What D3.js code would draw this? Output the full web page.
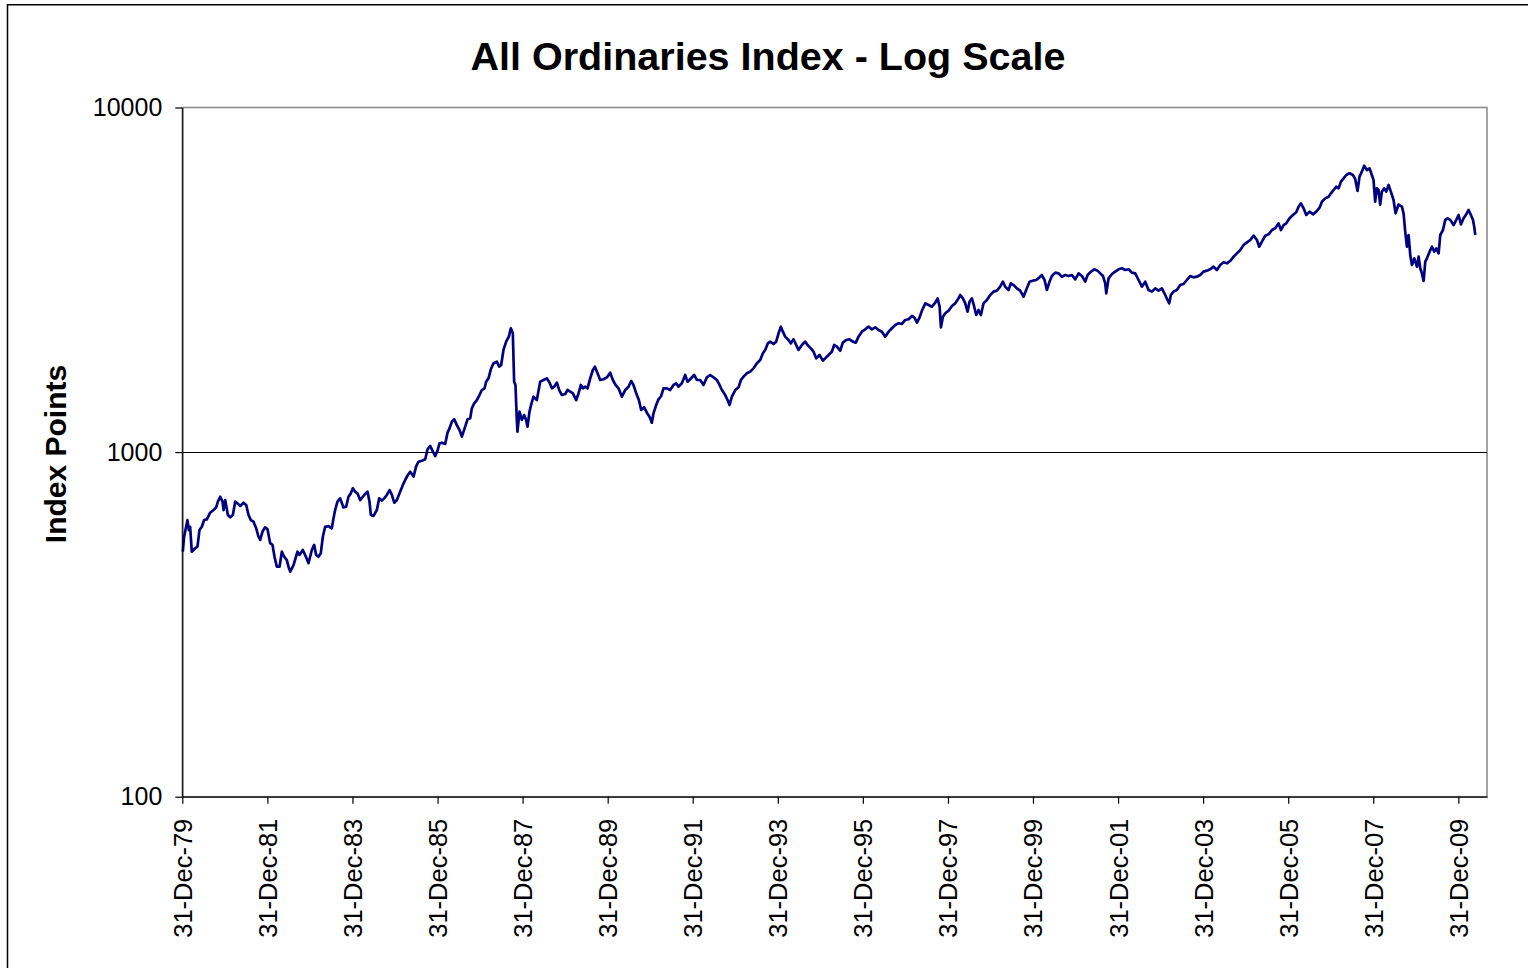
<!DOCTYPE html>
<html>
<head>
<meta charset="utf-8">
<script src="https://cdn.jsdelivr.net/npm/d3@7"></script>
<style>
  html, body { margin: 0; padding: 0; background: #fff; }
  svg { display: block; }
  text { font-family: "Liberation Sans", Arial, sans-serif; }
</style>
</head>
<body>
<svg id="chart" width="1528" height="968"></svg>
<script>
// ---- Data (decimal year, index points) ----
const years = [
1980.009,1980.040,1980.118,1980.150,1980.181,1980.220,1980.299,1980.353,1980.400,1980.455,
1980.510,1980.573,1980.651,1980.730,1980.792,1980.832,1980.887,1980.941,1980.965,1981.004,
1981.067,1981.122,1981.184,1981.239,1981.294,1981.357,1981.435,1981.498,1981.553,1981.608,
1981.670,1981.733,1981.788,1981.827,1981.882,1981.944,1981.999,1982.062,1982.117,1982.164,
1982.219,1982.282,1982.337,1982.392,1982.454,1982.493,1982.533,1982.611,1982.705,1982.752,
1982.830,1982.893,1982.964,1983.042,1983.097,1983.144,1983.198,1983.253,1983.301,1983.355,
1983.434,1983.512,1983.551,1983.590,1983.645,1983.708,1983.786,1983.849,1983.904,1983.959,
1984.006,1984.061,1984.115,1984.178,1984.241,1984.296,1984.351,1984.398,1984.429,1984.492,
1984.570,1984.625,1984.688,1984.743,1984.805,1984.868,1984.923,1984.978,1985.040,1985.119,
1985.182,1985.244,1985.299,1985.354,1985.432,1985.495,1985.550,1985.628,1985.707,1985.762,
1985.824,1985.887,1985.942,1985.996,1986.044,
1986.098,1986.177,1986.232,1986.279,1986.334,1986.389,1986.451,1986.514,1986.569,1986.647,
1986.702,1986.765,1986.804,1986.859,1986.921,1986.984,1987.039,1987.102,1987.141,1987.196,
1987.251,1987.313,1987.392,1987.447,1987.494,1987.548,1987.611,1987.674,1987.721,1987.768,
1987.799,1987.830,1987.862,1987.877,1987.925,1987.980,1988.034,1988.081,1988.113,1988.160,
1988.207,1988.254,1988.332,1988.411,1988.489,1988.567,1988.630,1988.685,1988.740,1988.803,
1988.857,1988.920,1988.998,1989.053,1989.116,1989.178,1989.257,1989.311,1989.366,1989.413,
1989.468,1989.523,1989.586,1989.649,1989.696,1989.759,1989.821,1989.900,1989.978,1990.057,
1990.119,1990.182,1990.252,1990.331,1990.409,1990.487,1990.550,1990.605,1990.668,1990.731,
1990.785,1990.856,1990.919,1990.981,1991.036,1991.075,1991.138,1991.193,1991.256,1991.310,
1991.389,1991.467,1991.546,1991.608,1991.663,1991.742,1991.820,1991.875,1991.938,1992.032,
1992.094,1992.173,
1992.251,1992.329,1992.408,1992.486,1992.565,1992.627,1992.682,1992.760,1992.815,1992.862,
1992.917,1992.996,1993.074,1993.129,1993.191,1993.270,1993.348,1993.426,1993.505,1993.583,
1993.646,1993.701,1993.763,1993.818,1993.897,1993.959,1994.014,1994.069,1994.116,1994.171,
1994.249,1994.304,1994.367,1994.429,1994.484,1994.563,1994.641,1994.696,1994.775,1994.837,
1994.900,1994.978,1995.057,1995.112,1995.190,1995.268,1995.323,1995.386,1995.464,1995.527,
1995.605,1995.684,1995.762,1995.833,1995.896,1995.974,1996.053,1996.131,1996.209,1996.288,
1996.366,1996.445,1996.523,1996.601,1996.680,1996.758,1996.837,1996.915,1996.993,1997.072,
1997.150,1997.205,1997.268,1997.330,1997.385,1997.464,1997.542,1997.620,1997.699,1997.754,
1997.801,1997.832,1997.879,1997.934,1998.012,1998.091,1998.169,1998.247,
1998.286,1998.349,1998.404,1998.458,1998.505,1998.560,1998.615,1998.662,1998.717,1998.772,
1998.834,1998.913,1998.991,1999.070,1999.148,1999.226,1999.289,1999.344,1999.422,1999.477,
1999.540,1999.618,1999.697,1999.775,1999.838,1999.916,1999.994,2000.073,2000.151,2000.206,
2000.269,2000.324,2000.386,2000.441,2000.520,2000.598,2000.676,2000.755,2000.833,2000.912,
2000.990,2001.068,2001.147,2001.225,2001.280,2001.359,2001.437,2001.515,2001.578,2001.641,
2001.695,2001.719,2001.774,2001.852,2001.930,2002.009,2002.087,2002.166,2002.244,2002.322,
2002.401,2002.479,2002.557,2002.636,2002.714,2002.793,2002.871,2002.949,2003.028,2003.106,
2003.161,2003.200,2003.239,2003.301,2003.380,2003.458,2003.537,2003.615,2003.693,2003.772,
2003.850,2003.928,2004.007,2004.085,2004.164,
2004.242,2004.321,2004.399,2004.477,2004.556,2004.634,2004.713,2004.791,2004.869,2004.948,
2005.026,2005.105,2005.183,2005.261,2005.316,2005.379,2005.457,2005.536,2005.614,2005.692,
2005.771,2005.826,2005.888,2005.951,2006.029,2006.108,2006.186,2006.241,2006.296,2006.359,
2006.421,2006.500,2006.578,2006.657,2006.735,2006.790,2006.868,2006.947,2007.002,2007.064,
2007.127,2007.182,2007.237,2007.299,2007.362,2007.440,2007.519,2007.573,2007.628,2007.675,
2007.730,2007.785,2007.847,2007.910,2007.965,2008.004,2008.043,2008.082,2008.121,2008.161,
2008.200,2008.255,2008.302,2008.357,2008.411,2008.474,2008.521,2008.592,2008.670,2008.709,
2008.748,2008.788,2008.827,2008.866,2008.905,2008.960,2009.023,2009.062,2009.101,2009.140,
2009.180,2009.219,2009.258,2009.321,2009.376,2009.431,2009.478,2009.533,2009.572,2009.635,
2009.690,2009.744,2009.807,2009.885,2009.948,2010.003,2010.058,2010.121,2010.183,2010.238,
2010.293,2010.340,2010.371,2010.395
];
const values = [
514,568,635,594,607,514,526,532,594,607,
635,638,667,679,691,718,742,718,679,726,
657,647,657,718,710,698,713,702,657,635,
628,601,568,556,588,605,597,544,538,497,
465,465,514,497,486,465,450,470,514,503,
520,500,476,520,538,503,497,509,568,607,
610,601,642,679,718,734,691,694,742,759,
785,768,759,726,742,756,768,718,657,653,
679,734,723,734,751,776,751,713,726,768,
803,834,858,877,849,911,938,944,953,1019,
1042,1003,974,1010,1060,
1065,1056,1139,1172,1225,1245,1198,1159,1109,1185,
1245,1253,1340,1385,1416,1464,1514,1531,1601,1637,
1739,1810,1830,1770,1790,1979,2092,2163,2287,2212,
1601,1566,1240,1146,1310,1240,1281,1240,1185,1310,
1385,1448,1416,1601,1619,1637,1591,1531,1548,1591,
1514,1464,1474,1514,1498,1481,1416,1481,1566,1531,
1548,1531,1637,1731,1770,1693,1619,1627,1648,1700,
1619,1566,1531,1448,1514,1548,1608,1566,1481,1416,
1325,1349,1301,1267,1217,1296,1370,1423,1455,1531,
1531,1514,1566,1584,1548,1584,1674,1601,1627,1674,
1619,1619,
1566,1648,1674,1648,1619,1566,1514,1464,1416,1370,
1448,1514,1542,1619,1656,1693,1712,1750,1810,1851,
1935,1979,2068,2092,2059,2092,2212,2312,2236,2163,
2115,2068,2125,2046,1979,2046,2092,2046,2000,1956,
1871,1913,1842,1871,1913,1956,2046,2023,1969,2078,
2115,2125,2092,2078,2163,2236,2271,2312,2271,2302,
2261,2236,2163,2236,2287,2338,2365,2354,2418,2429,
2483,2461,2375,2461,2573,2702,2672,2642,2714,2794,
2642,2302,2472,2528,2573,2655,2702,2794,
2857,2794,2702,2556,2732,2794,2642,2500,2585,2500,
2702,2763,2857,2922,2941,3021,3123,3021,2954,3089,
3054,2987,2941,2825,2954,3123,3144,3158,3215,3265,
3158,2954,3123,3243,3317,3302,3229,3265,3243,3265,
3172,3302,3243,3123,3265,3339,3392,3362,3302,3243,
3089,2889,3194,3287,3339,3392,3415,3376,3392,3317,
3302,3158,3021,3123,2954,2922,2987,2941,2987,2857,
2763,2702,2857,2922,2954,3054,3075,3158,3243,3215,
3229,3265,3339,3362,3392,
3452,3376,3491,3554,3531,3586,3691,3774,3859,3990,
4062,4126,4247,4126,3945,4080,4247,4285,4411,4461,
4612,4411,4560,4612,4769,4877,4964,5155,5271,5098,
4877,4986,4898,4986,5121,5330,5450,5511,5635,5763,
5893,5827,6093,6230,6370,6442,6370,6202,5724,6300,
6513,6780,6586,6661,6370,6160,5330,5827,5763,5228,
5699,5827,5699,5958,5699,5390,4931,5228,5155,4931,
4362,3945,4266,3733,3491,3650,3452,3691,3415,3302,
3137,3569,3650,3816,3945,3816,3902,3774,4266,4411,
4720,4769,4720,4560,4720,4877,4581,4769,4898,5042,
4877,4720,4510,4266
];
const yTickValues = [100, 1000, 10000];
const xTickDates = ["1979-12-31","1981-12-31","1983-12-31","1985-12-31","1987-12-31",
  "1989-12-31","1991-12-31","1993-12-31","1995-12-31","1997-12-31","1999-12-31",
  "2001-12-31","2003-12-31","2005-12-31","2007-12-31","2009-12-31"];
const xTickLabels = ["31-Dec-79","31-Dec-81","31-Dec-83","31-Dec-85","31-Dec-87",
  "31-Dec-89","31-Dec-91","31-Dec-93","31-Dec-95","31-Dec-97","31-Dec-99",
  "31-Dec-01","31-Dec-03","31-Dec-05","31-Dec-07","31-Dec-09"];
const xDomain = ["1979-12-31", "2010-09-03"];
const yDomain = [100, 10000];
const titleText = "All Ordinaries Index - Log Scale";
const yTitleText = "Index Points";

// ---- Helpers ----
const parseDay = d3.utcParse("%Y-%m-%d");
function decToDate(y) {
  const yr = Math.floor(y);
  const s = Date.UTC(yr, 0, 1), e = Date.UTC(yr + 1, 0, 1);
  return new Date(s + (y - yr) * (e - s));
}
const series = years.map((y, i) => ({ date: decToDate(y), value: values[i] }));

// ---- Layout ----
const svg = d3.select("#chart");
const L = 182.3, R = 1487, T = 107.5, B = 796.7;

const x = d3.scaleUtc().domain(xDomain.map(parseDay)).range([L, R]);
const y = d3.scaleLog().domain(yDomain).range([B, T]);

// outer chart border
svg.append("rect")
  .attr("x", 7.5).attr("y", 4.75)
  .attr("width", 1560).attr("height", 1000)
  .attr("fill", "none").attr("stroke", "#000").attr("stroke-width", 1.5);

// title
svg.append("text")
  .attr("x", 768).attr("y", 70)
  .attr("text-anchor", "middle")
  .attr("font-weight", "bold").attr("font-size", 39.5)
  .text(titleText);

// y title
svg.append("text")
  .attr("transform", "translate(66,454) rotate(-90)")
  .attr("text-anchor", "middle")
  .attr("font-weight", "bold").attr("font-size", 30)
  .text(yTitleText);

// plot area border
svg.append("rect")
  .attr("x", L).attr("y", T).attr("width", R - L).attr("height", B - T)
  .attr("fill", "#fff").attr("stroke", "#8c8c8c").attr("stroke-width", 1.6);

// gridlines (major)
svg.append("g").selectAll("line")
  .data(yTickValues.filter(v => v > yDomain[0] && v < yDomain[1]))
  .join("line")
  .attr("x1", L).attr("x2", R)
  .attr("y1", d => Math.round(y(d)) + 0.5).attr("y2", d => Math.round(y(d)) + 0.5)
  .attr("stroke", "#000").attr("stroke-width", 1);

// line
const line = d3.line().x(d => x(d.date)).y(d => y(d.value));
svg.append("path")
  .datum(series)
  .attr("d", line)
  .attr("fill", "none")
  .attr("stroke", "#000080")
  .attr("stroke-width", 2.7)
  .attr("stroke-linejoin", "round");

// y axis
const yAxis = svg.append("g")
  .attr("transform", `translate(${L},0)`)
  .call(d3.axisLeft(y).tickValues(yTickValues).tickFormat(d3.format("d"))
    .tickSize(7).tickSizeOuter(0).tickPadding(13));
yAxis.selectAll("text").attr("font-size", 25).attr("fill", "#000")
  .style("font-family", '"Liberation Sans", Arial, sans-serif');
yAxis.select(".domain").attr("stroke", "#000").attr("stroke-width", 1.2);
yAxis.selectAll(".tick line").attr("stroke", "#000").attr("stroke-width", 1.2);

// x axis
const xAxis = svg.append("g")
  .attr("transform", `translate(0,${B})`)
  .call(d3.axisBottom(x).tickValues(xTickDates.map(parseDay))
    .tickFormat((d, i) => xTickLabels[i])
    .tickSize(7).tickSizeOuter(0));
xAxis.selectAll("text")
  .attr("font-size", 25.5).attr("fill", "#000")
  .style("font-family", '"Liberation Sans", Arial, sans-serif')
  .attr("transform", "rotate(-90)")
  .attr("x", -22).attr("y", 0).attr("dy", "0.35em")
  .style("text-anchor", "end");
xAxis.select(".domain").attr("stroke", "#000").attr("stroke-width", 1.2);
xAxis.selectAll(".tick line").attr("stroke", "#000").attr("stroke-width", 1.2);
</script>
</body>
</html>
